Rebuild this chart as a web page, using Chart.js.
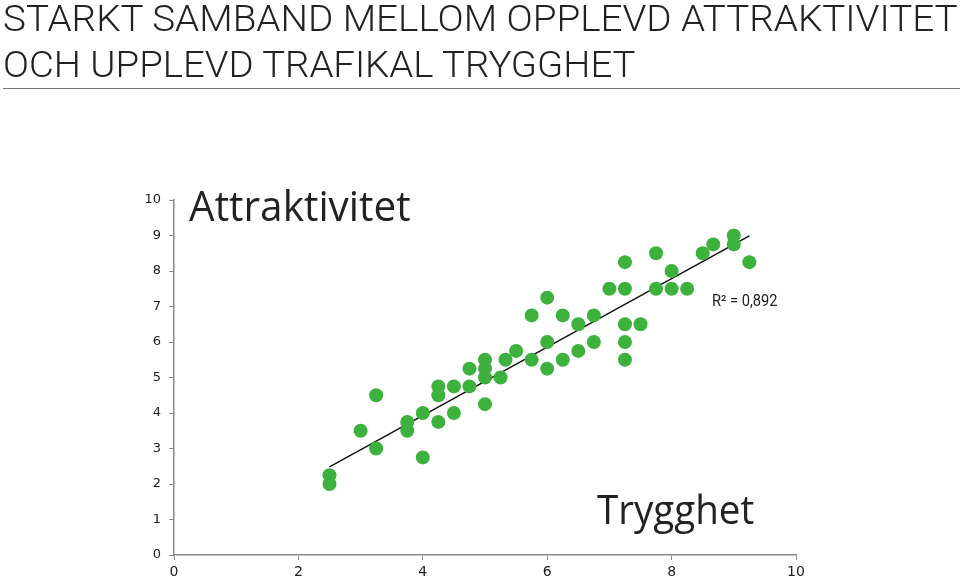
<!DOCTYPE html>
<html>
<head>
<meta charset="utf-8">
<script src="https://cdn.jsdelivr.net/npm/chart.js@4"></script>
<style>
  html, body { margin: 0; padding: 0; background: #fff; }
  #wrap { position: relative; width: 960px; height: 580px; overflow: hidden; }
  #chart { position: absolute; left: 0; top: 0; }
  .title { position: absolute; left: 3px; font-family: Roboto, "DejaVu Sans"; font-weight: 300;
           font-size: 37px; color: #222; white-space: nowrap; transform-origin: 0 0; line-height: 1; }
  #rule { position: absolute; left: 3px; top: 88px; width: 957px; height: 1px; background: #777; }
  .lbl { position: absolute; font-family: "Open Sans", Roboto, sans-serif; color: #222; white-space: nowrap;
         line-height: 1; transform-origin: 0 0; }
</style>
</head>
<body>
<div id="wrap">
  <canvas id="chart" width="960" height="580"></canvas>
  <div class="title" id="t1" style="top:0px">STARKT SAMBAND MELLOM OPPLEVD ATTRAKTIVITET</div>
  <div class="title" id="t2" style="top:46px">OCH UPPLEVD TRAFIKAL TRYGGHET</div>
  <div id="rule"></div>
  <div class="lbl" id="ylab" style="left:189px; top:184px; font-size:42px;">Attraktivitet</div>
  <div class="lbl" id="xlab" style="left:597px; top:488px; font-size:41px;">Trygghet</div>
  <div class="lbl" id="r2" style="left:712px; top:293px; font-size:16px; font-family: Roboto, sans-serif;">R² = 0,892</div>
</div>
<script>
document.addEventListener('DOMContentLoaded', function() {
    // Stretch text to the widths seen in the reference
    function fit(id, w) {
        const el = document.getElementById(id);
        el.style.transform = 'scaleX(' + (w / el.offsetWidth) + ')';
    }
    fit('t1', 955);
    fit('t2', 633);
    fit('ylab', 222);
    fit('xlab', 157);
    fit('r2', 66);

    // Trygghet (x) and Attraktivitet (y) per point
    const trygghet = [2.5, 2.5, 3, 3.25, 3.25, 3.75, 3.75, 4, 4, 4.25, 4.25, 4.25, 4.5, 4.5, 4.75, 4.75,
                      5, 5, 5, 5, 5.25, 5.33, 5.5, 5.75, 5.75, 6, 6, 6, 6.25, 6.25, 6.5, 6.5, 6.75, 6.75,
                      7, 7.25, 7.25, 7.25, 7.25, 7.25, 7.5, 7.75, 7.75, 8, 8, 8.25, 8.5, 8.67, 9, 9, 9.25];
    const attraktivitet = [2.25, 2, 3.5, 4.5, 3, 3.75, 3.5, 4, 2.75, 4.75, 4.5, 3.75, 4.75, 4, 5.25, 4.75,
                           5.5, 5.25, 5, 4.25, 5, 5.5, 5.75, 6.75, 5.5, 7.25, 6, 5.25, 6.75, 5.5, 6.5, 5.75, 6.75, 6,
                           7.5, 8.25, 7.5, 6.5, 6, 5.5, 6.5, 8.5, 7.5, 8, 7.5, 7.5, 8.5, 8.75, 9, 8.75, 8.25];

    // Trend line ends
    const trendX = [2.5, 9.25];
    const trendY = [2.48, 8.99];

    const xTicks = [0, 2, 4, 6, 8, 10];
    const yTicks = [0, 1, 2, 3, 4, 5, 6, 7, 8, 9, 10];

    const axisGray = '#8a8a8a';

    const ctx = document.getElementById('chart').getContext('2d');
    new Chart(ctx, {
        type: 'scatter',
        data: {
            datasets: [{
                data: trygghet.map((x, i) => ({ x: x, y: attraktivitet[i] })),
                backgroundColor: '#3cb13c',
                borderWidth: 0,
                pointRadius: 7,
                pointHoverRadius: 7,
                clip: false
            }, {
                type: 'line',
                data: trendX.map((x, i) => ({ x: x, y: trendY[i] })),
                borderColor: '#111',
                borderWidth: 1.5,
                pointRadius: 0,
                fill: false
            }]
        },
        options: {
            responsive: false,
            animation: false,
            layout: { padding: { left: 0, top: 200, right: 164, bottom: 0 } },
            plugins: { legend: { display: false }, tooltip: { enabled: false } },
            scales: {
                x: {
                    type: 'linear', min: 0, max: 10,
                    afterBuildTicks: s => { s.ticks = xTicks.map(v => ({ value: v })); },
                    afterFit: s => { s.height = 25; },
                    grid: { drawOnChartArea: false, drawTicks: true, tickLength: 5, color: axisGray },
                    border: { color: axisGray, width: 1.5 },
                    ticks: { color: '#222', font: { family: 'DejaVu Sans', size: 14 }, padding: 4 }
                },
                y: {
                    type: 'linear', min: 0, max: 10,
                    afterBuildTicks: s => { s.ticks = yTicks.map(v => ({ value: v })); },
                    afterFit: s => { s.width = 174; },
                    grid: { drawOnChartArea: false, drawTicks: true, tickLength: 5, color: axisGray },
                    border: { color: axisGray, width: 1.5 },
                    ticks: { color: '#222', font: { family: 'DejaVu Sans', size: 13 }, padding: 8 }
                }
            }
        }
    });
});
</script>
</body>
</html>
